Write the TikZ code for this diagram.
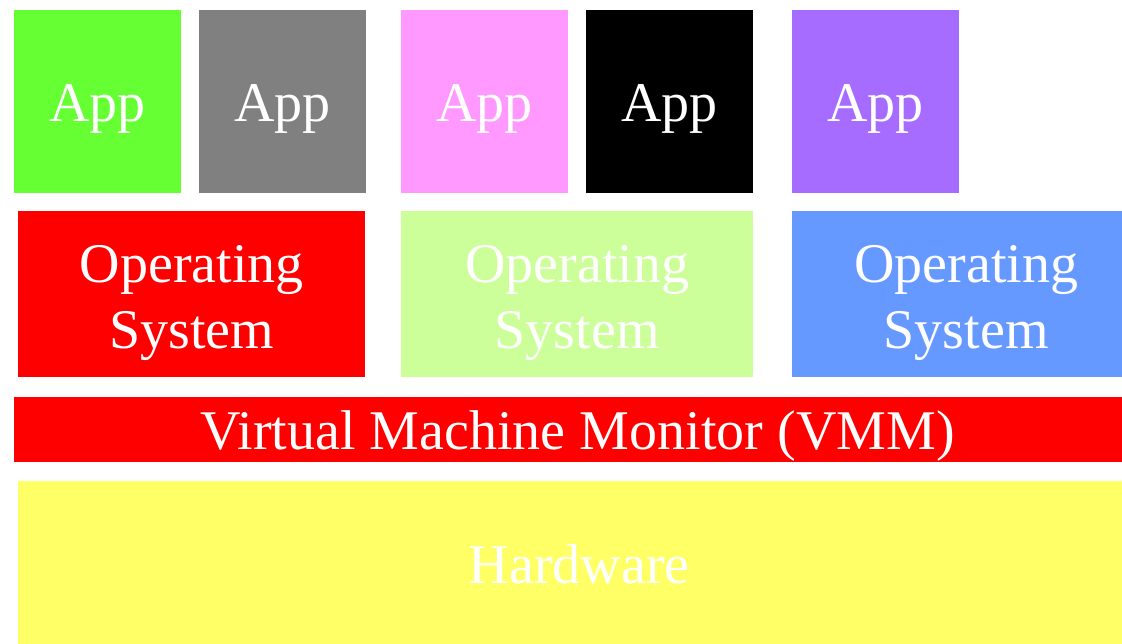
\documentclass[tikz,border=0pt]{standalone}
\usepackage{fontspec}
\setmainfont{Liberation Serif}
\definecolor{appgreen}{HTML}{66FF33}
\definecolor{appgray}{HTML}{808080}
\definecolor{apppink}{HTML}{FF99FF}
\definecolor{apppurple}{HTML}{A66BFF}
\definecolor{osred}{HTML}{FF0000}
\definecolor{osgreen}{HTML}{CCFF99}
\definecolor{osblue}{HTML}{6699FF}
\definecolor{hwyellow}{HTML}{FFFF66}
\tikzset{
  layer/.style={anchor=north west, inner sep=0pt, text=white,
    font=\fontsize{56}{66}\selectfont},
  appbox/.style={layer, minimum width=166.5pt, minimum height=183pt,
    text height=41pt, text depth=0pt},
  osbox/.style={layer, align=center, minimum height=166pt,
    text height=108pt, text depth=0pt},
  barbox/.style={layer, text height=40pt, text depth=0pt},
}
\begin{document}
\begin{tikzpicture}[x=1pt,y=-1pt]
  \useasboundingbox (0,0) rectangle (1122,643);
  % application boxes
  \node[appbox, fill=appgreen]  (app1) at (14,9.5)  {App};
  \node[appbox, fill=appgray]   (app2) at (199,9.5) {App};
  \node[appbox, fill=apppink]   (app3) at (401,9.5) {App};
  \node[appbox, fill=black]     (app4) at (586,9.5) {App};
  \node[appbox, fill=apppurple] (app5) at (792,9.5) {App};
  % guest operating systems
  \node[osbox, fill=osred,   minimum width=347pt] (os1) at (18,211)  {Operating\\System};
  \node[osbox, fill=osgreen, minimum width=352pt] (os2) at (401,211) {Operating\\System};
  \node[osbox, fill=osblue,  minimum width=348pt] (os3) at (792,211) {Operating\\System};
  % hypervisor and hardware
  \node[barbox, fill=osred, minimum width=1127pt, minimum height=64.5pt] (vmm) at (14,397)
    {Virtual Machine Monitor (VMM)};
  \node[barbox, fill=hwyellow, minimum width=1122pt, minimum height=170pt,
        text height=34pt] (hw) at (18,481) {Hardware};
\end{tikzpicture}
\end{document}
